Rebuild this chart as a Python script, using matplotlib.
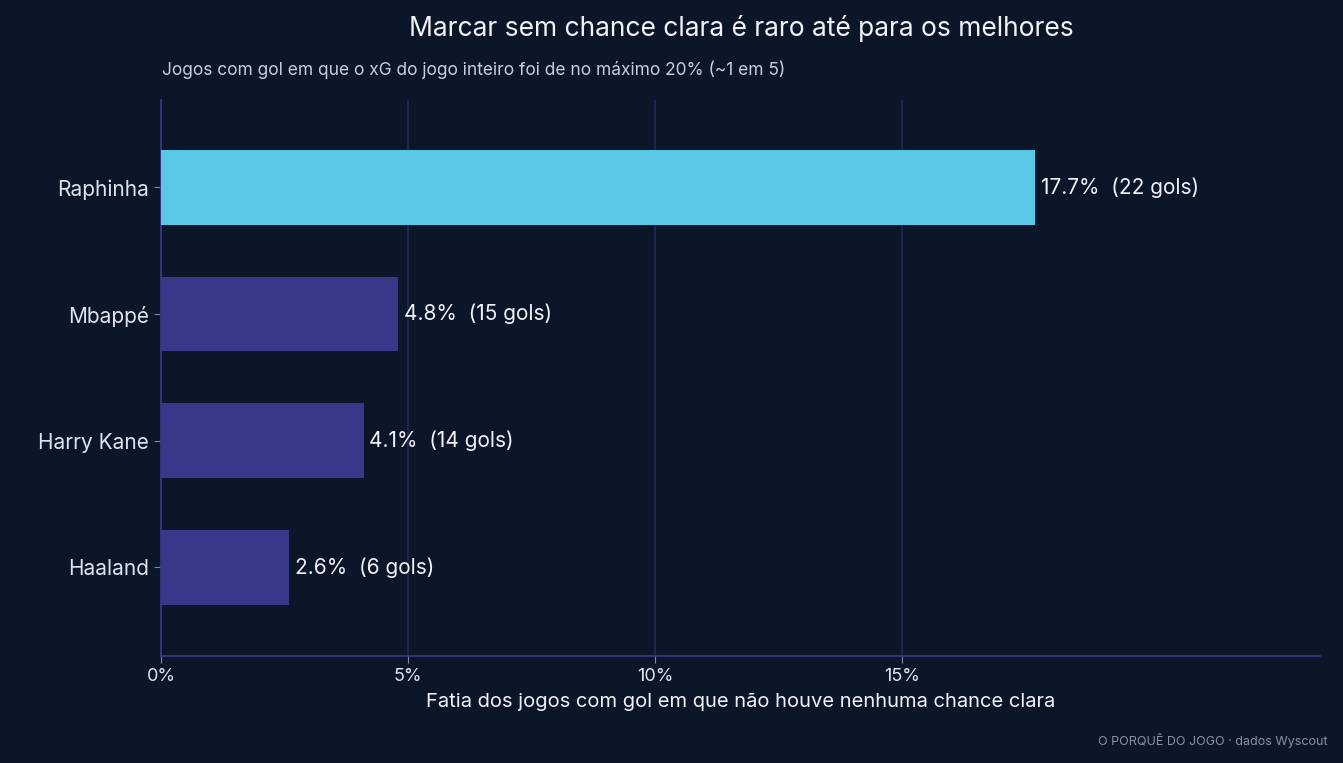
import matplotlib
matplotlib.use("Agg")
import matplotlib.pyplot as plt

players = ["Raphinha", "Mbappé", "Harry Kane", "Haaland"]
pct = [17.7, 4.8, 4.1, 2.6]
goals = [22, 15, 14, 6]
xticks = [0, 5, 10, 15]
xlabels = ["0%", "5%", "10%", "15%"]

plt.rcParams['font.family'] = ['Inter', 'DejaVu Sans']
bg = "#0b1628"
fig = plt.figure(figsize=(13.43, 7.63), dpi=100, facecolor=bg)
ax = fig.add_axes([161/1343, 1-656/763, (1320-161)/1343, (656-100)/763], facecolor=bg)

ypos = list(range(len(players)))
colors = ["#58c8e6"] + ["#38388a"] * (len(players) - 1)
ax.barh(ypos, pct, height=0.59, color=colors, zorder=3)
for y, p, g in zip(ypos, pct, goals):
    ax.text(p + 0.12, y, f"{p:.1f}%  ({g} gols)", va="center", ha="left",
            color="#f0f2f8", fontsize=15, zorder=4)

ax.set_ylim(len(players) - 1 + 0.70, -0.69)
ax.set_xlim(0, 23.46)
ax.set_yticks(ypos)
ax.set_yticklabels(players, fontsize=15, color="#dfe3ee")
ax.set_xticks(xticks)
ax.set_xticklabels(xlabels, fontsize=13, color="#dfe3ee")
ax.tick_params(axis="both", colors="#7f86b8", length=5)
for lab in ax.get_xticklabels() + ax.get_yticklabels():
    lab.set_color("#dfe3ee")
ax.grid(axis="x", color="#1c2550", linewidth=1.5, zorder=0)
for s in ["top", "right"]:
    ax.spines[s].set_visible(False)
for s in ["left", "bottom"]:
    ax.spines[s].set_color("#3a3a8a")
    ax.spines[s].set_linewidth(1.2)
ax.set_xlabel("Fatia dos jogos com gol em que não houve nenhuma chance clara",
              fontsize=14.5, color="#f0f2f8", labelpad=6)

fig.text(741/1343, 1-28/763, "Marcar sem chance clara é raro até para os melhores",
         ha="center", va="center", fontsize=19, color="#f0f2f8")
fig.text(162/1343, 1-70/763, "Jogos com gol em que o xG do jogo inteiro foi de no máximo 20% (~1 em 5)",
         ha="left", va="center", fontsize=12.5, color="#c8cde0")
fig.text(1328/1343, 1-740/763, "O PORQUÊ DO JOGO · dados Wyscout",
         ha="right", va="center", fontsize=9, color="#8a90a8")

fig.savefig("out.png", dpi=100, facecolor=bg)
